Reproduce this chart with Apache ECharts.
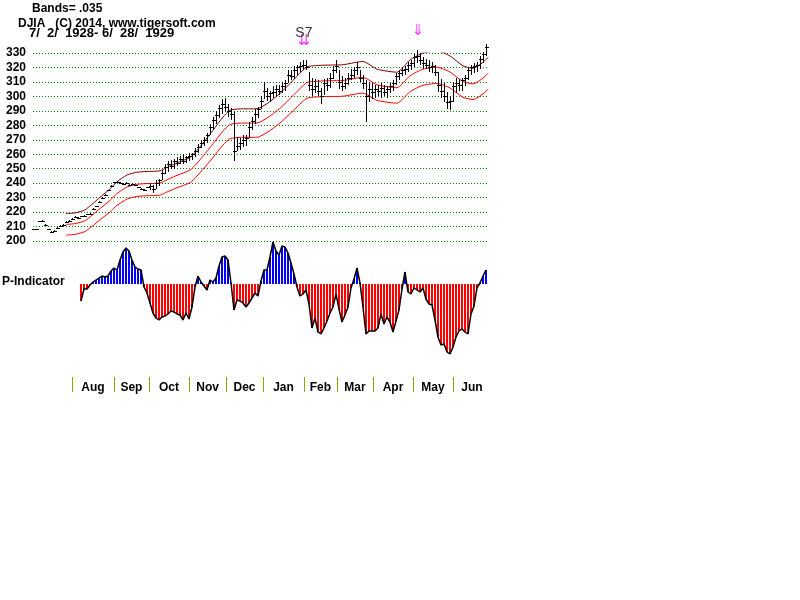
<!DOCTYPE html>
<html><head><meta charset="utf-8">
<script src="https://cdn.jsdelivr.net/npm/echarts@6/dist/echarts.min.js"></script>
<style>html,body{margin:0;padding:0;background:#fff}#c{width:800px;height:600px}</style>
</head><body><div id="c"></div>
<script>
// ---- data (x = trading-day slot index, ~2 sessions per slot) ----
const barClose = [208,208,213.5,214,211,208,206.5,207,209,210.5,211,213,214,215.5,216.5,216,217,217.5,218.5,219,222,224,227,230,232,235,238,240.5,241,240,239.5,240,239,239.5,238.5,237,236,235.5,237,
238,236,240,242,247,251,253,252,255,254,257,255,258,259,260,262,265,268,270,273,279,284,287,292,295,293,290,288,262,266,268,270,271,279,283,288,291,297,304,300,302,303,305,304,307,309,315,314,318,320,321,322,320,308,305,307,304,300,309,308,313,318,321,310,307,309,313,315,318,320,313,309,300,305,303,305,304,306,303,305,307,309,314,316,318,319,322,323,327,328,325,323,322,320,321,317,308,304,300,296,297,307,309,308,311,313,318,320,321,322,326,329,334];
const barLow = [207.5,207.5,213,213.5,210.5,207.5,206,206.5,208.5,210,210.5,212.5,213.5,215,216,215.5,216.5,217,218,218.5,221.5,223.5,226.5,229.5,231.5,234.5,237.5,240,240.5,239.5,239,239.5,238.5,239,238,236.5,235.5,235,236.5,
235,233.5,236,238,242,246,248,250,250,252,253,253,254,255,256,258,261,264,266,268,273,277,281,285,288,290,286,284,255,262,263,265,266,271,277,281,285,291,298,297,296,299,300,301,302,304,309,311,312,315,317,318,318,304,300,302,300,295,301,304,306,312,316,305,304,305,308,311,313,315,310,305,282,296,298,299,300,299,300,299,302,304,308,311,314,315,317,318,320,323,322,319,319,317,316,314,303,299,296,291,290.5,296,302,304,304,307,311,315,316,317,319,323,328];
const barHigh = [208.5,208.5,214,214.5,211.5,208.5,207,207.5,209.5,211,211.5,213.5,214.5,216,217,216.5,217.5,218,219,219.5,222.5,224.5,227.5,230.5,232.5,235.5,238.5,241,241.5,240.5,240,240.5,239.5,240,239,237.5,236.5,236,237.5,
240,239,242,243,249,253,255,256,257,258,259,260,259,261,261,264,267,270,272,275,281,286,290,294,298,299,295,292,290,272,271,273,273,282,286,291,293,300,310,306,304,307,308,308,310,311,318,318,321,322,324,325,325.5,317,313,312,311,306,312,313,316,321,325,318,314,313,316,319,320,324,318,315,311,310,309,308,308,309,308,307,309,311,316,318,320,321,324,325,329,332,330,327,326,325,324,322,317,312,309,303,300,310,313,312,313,315,320,322,323,324,328,331,336];
// 21-day moving average (middle band) read at slot positions
const maIdx = [11,14,17.3,19.7,22.3,25.7,28,31.3,34.7,38,42.3,44.7,48,52.3,54.7,60,63.3,65.7,69,74.7,78,82.3,86.7,91.3,95.7,99,103.3,110,114.7,121.3,125.7,130,134.7,139,143.3,146.7,150,151.7];
const maVal = [211.5,212,214,217.8,222.4,228.1,232.8,237.3,239.2,239.7,240.1,242.4,245.4,249,253.8,267.2,276,280.6,281.5,281.6,285,291.7,300.6,309.5,310.6,310.8,311,313.2,308,306,314.3,318.8,320.2,316.9,310.3,308.6,312.6,316];
const BAND = 0.035;
// P-Indicator, starting at slot pStart
const pStart = 16;
const pInd = [-17,-5,-5,-1,2,4,6,8,7,8,13,16,14,24,32,36,33,24,17,15,14,-3,-9,-19,-29,-34,-36,-33,-32,-30,-27,-28,-30,-31,-36,-29,-35,-23,-3,8,2,-2,-6,4,2,6,18,27,28,24,1,-26,-16,-17,-19,-23,-19,-14,-9,-12,3,14,14,27,42,33,29,38,37,31,21,10,-3,-12,-10,-6,-20,-44,-34,-48,-50,-44,-37,-29,-23,-10,-25,-38,-31,-23,-4,5,16,1,-23,-50,-47,-47,-47,-44,-30,-40,-33,-38,-48,-37,-26,-5,12,-8,-10,-4,-6,-8,-4,-15,-20,-21,-36,-53,-61,-60,-68,-70,-63,-53,-47,-45,-48,-50,-30,-22,-4,1,8,14];
const monthNames = ['Aug','Sep','Oct','Nov','Dec','Jan','Feb','Mar','Apr','May','Jun'];
const monthStart = [13,27,38.67,52,64.33,76.67,90.33,101.33,113.33,126.67,140];
const monthLabelPos = [20,32.8,45.3,58.2,70.5,83.5,95.8,107.3,120,133.3,146.3];
const sigIdx = [90.3,128.3];
const sigVal = [338.5,345];
const sigArrow = ['\u21CA','\u21D3'];
const sigName = ['S7'];
const sigNameIdx = [90.3];
const sigNameVal = [344];

// ---- chart ----
const X_MAX = 151.67;
const FONT = '"Liberation Sans", Arial, sans-serif';
const bars = barClose.map((c,i)=>[i, barLow[i], barHigh[i], c]);
const band = f => maIdx.map((x,k)=>[x, +(maVal[k]*f).toFixed(2)]);
const pData = pInd.map((v,k)=>[pStart+k, v]);

const chart = echarts.init(document.getElementById('c'), null, {renderer:'canvas'});
chart.setOption({
  animation:false,
  backgroundColor:'#ffffff',
  textStyle:{fontFamily:FONT},
  grid:[
    {left:33, top:53, width:455, height:188},
    {left:33, top:240, width:455, height:116},
    {left:33, top:376, width:455, height:1}
  ],
  xAxis:[
    {gridIndex:0, type:'value', min:0, max:X_MAX, show:false},
    {gridIndex:1, type:'value', min:0, max:X_MAX, show:false},
    {gridIndex:2, type:'value', min:0, max:X_MAX,
      axisLine:{show:false}, splitLine:{show:false},
      axisTick:{show:true, customValues:monthStart, length:15, lineStyle:{color:'#a0a000', width:1}},
      axisLabel:{show:true, customValues:monthLabelPos, margin:5, color:'#000', fontWeight:'bold', fontSize:12, fontFamily:FONT,
        formatter:v=>{const k=monthLabelPos.findIndex(p=>Math.abs(p-v)<0.05);return k>=0?monthNames[k]:'';}}
    }
  ],
  yAxis:[
    {gridIndex:0, type:'value', min:200, max:330, interval:10,
      axisLine:{show:false}, axisTick:{show:false},
      axisLabel:{margin:7, color:'#000', fontWeight:'bold', fontSize:12, fontFamily:FONT},
      splitLine:{show:true, lineStyle:{color:'#008000', type:[1,2], width:1}}},
    {gridIndex:1, type:'value', min:-72, max:44, show:false},
    {gridIndex:2, type:'value', show:false}
  ],
  graphic:[
    {type:'text', left:32, top:3, style:{text:'Bands= .035', font:'bold 12px '+FONT, fill:'#000'}},
    {type:'text', left:18, top:18, style:{text:'DJIA   (C) 2014, www.tigersoft.com', font:'bold 12px '+FONT, fill:'#000'}},
    {type:'text', left:29, top:27, style:{text:'7/  2/  1928- 6/  28/  1929', font:'bold 13px '+FONT, fill:'#000'}},
    {type:'text', left:2, top:276, style:{text:'P-Indicator', font:'bold 12px '+FONT, fill:'#000'}}
  ],
  series:[
    {type:'line', xAxisIndex:0, yAxisIndex:0, data:band(1+BAND), symbol:'none', smooth:0.2,
      lineStyle:{color:'#800000', width:1}, z:2},
    {type:'line', xAxisIndex:0, yAxisIndex:0, data:band(1), symbol:'none', smooth:0.2,
      lineStyle:{color:'#ff0000', width:1}, z:2},
    {type:'line', xAxisIndex:0, yAxisIndex:0, data:band(1-BAND), symbol:'none', smooth:0.2,
      lineStyle:{color:'#ff0000', width:1}, z:2},
    {type:'custom', xAxisIndex:0, yAxisIndex:0, data:bars, z:5, clip:false,
      encode:{x:0, y:[1,2,3]},
      renderItem:(params, api)=>{
        const x = api.value(0);
        const lo = api.coord([x, api.value(1)]);
        const hi = api.coord([x, api.value(2)]);
        const cl = api.coord([x, api.value(3)]);
        const px = Math.round(lo[0]) + 0.5;
        const cy = Math.round(cl[1]) + 0.5;
        return {type:'group', children:[
          {type:'line', shape:{x1:px, y1:Math.round(lo[1]), x2:px, y2:Math.round(hi[1])+0.01}, style:{stroke:'#000', lineWidth:1}},
          {type:'line', shape:{x1:px-1.5, y1:cy, x2:px+2.5, y2:cy}, style:{stroke:'#000', lineWidth:1}}
        ]};
      }
    },
    {type:'bar', xAxisIndex:1, yAxisIndex:1, data:pData, barWidth:2, z:2,
      itemStyle:{color:p=>p.value[1]>=0?'#0000ff':'#ff0000'}},
    {type:'line', xAxisIndex:1, yAxisIndex:1, data:pData, symbol:'none',
      lineStyle:{color:'#000', width:1.5}, z:3},
    {type:'scatter', xAxisIndex:0, yAxisIndex:0, data:sigIdx.map((x,k)=>[x, sigVal[k], sigArrow[k]]),
      symbolSize:1, itemStyle:{color:'rgba(0,0,0,0)'}, clip:false, z:6,
      label:{show:true, position:'inside', formatter:p=>p.value[2], color:'#ff00ff', fontSize:15, fontFamily:'"DejaVu Sans", sans-serif'}},
    {type:'scatter', xAxisIndex:0, yAxisIndex:0, data:sigNameIdx.map((x,k)=>[x, sigNameVal[k], sigName[k]]),
      symbolSize:1, itemStyle:{color:'rgba(0,0,0,0)'}, clip:false, z:6,
      label:{show:true, position:'inside', formatter:p=>p.value[2], color:'#000', fontSize:14, fontFamily:FONT}}
  ]
});
</script>
</body></html>
